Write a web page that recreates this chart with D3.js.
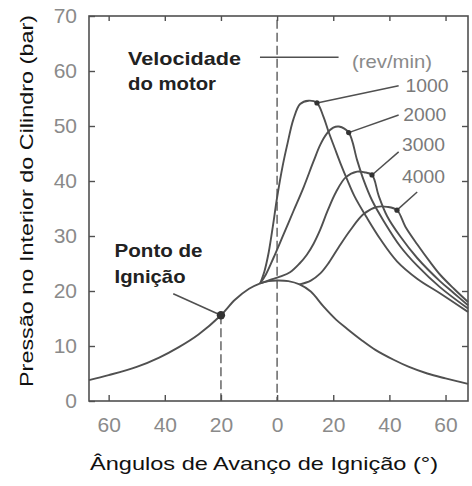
<!DOCTYPE html>
<html><head><meta charset="utf-8">
<script src="https://cdn.jsdelivr.net/npm/d3@7"></script>
<style>body{margin:0;background:#fff}svg{display:block}</style>
</head><body><svg id="c" width="472" height="486"></svg>
<script>
// ---- data ----
const xTicks = [-60, -40, -20, 0, 20, 40, 60];
const yTicks = [0, 10, 20, 30, 40, 50, 60, 70];
const rightTicks = [10, 20, 30, 40, 50, 60];
const seriesNames = ["1000", "2000", "3000", "4000"];

// motoring (no combustion) curve: [angle, pressure]
const motoring = [[-67,3.8],[-60,4.7],[-50,6.2],[-42,7.9],[-35,9.8],[-28,12.1],[-20,15.6],[-15,18.4],[-10,20.4],[-6,21.4],[-3,21.8],[0,21.9],[4,21.8],[8,21.2],[12,19.9],[16.5,17.2],[21,14.8],[25,13.1],[30,11.1],[35,9.3],[41.5,7.5],[47,6.2],[53.5,5.0],[60,4.1],[68,3.1]];

const rpm1000 = [[-6,21.4],[-4.5,23.6],[-3,27],[-1.5,31.8],[0,37],[2,42.8],[3.7,46.8],[5.8,51.2],[8.2,54],[11.2,54.6],[14.2,54.2],[16.5,51.7],[18.3,49],[20.5,46],[22.5,43.3],[25,40.2],[27.5,37.3],[32,33.3],[36.8,29.4],[42.7,25.4],[50,22.2],[58,19.6],[68,16.2]];
const rpm2000 = [[-6,21.4],[-4,23],[-1.3,26],[2.3,30.3],[5.8,34.5],[9.4,38.8],[13,43.6],[15.4,46.6],[17.7,48.6],[20,49.7],[22,49.9],[25.5,48.8],[28.5,43.8],[30.8,40.2],[33.8,36.5],[38,32.7],[43.9,28.1],[49.9,24.6],[58,20.7],[68,16.8]];
const rpm3000 = [[-6,21.4],[-2.5,22],[1,22.6],[4.6,23.4],[8,25],[10.6,26.6],[13,28.6],[15.4,31.2],[18,34.6],[21,38],[24.5,40.7],[28.5,41.7],[31,41.6],[33.8,41.1],[36.2,37.3],[39.2,33.6],[43.9,29.9],[49.9,26.0],[58,21.8],[63,19.6],[68,17.4]];
const rpm4000 = [[8,21.2],[12,21.9],[15.4,23.2],[18.5,25.2],[22,28],[26,31],[30.8,34],[35.6,35.3],[39.2,35.3],[42.7,34.7],[45.7,31.7],[49.9,28.5],[54.6,25.2],[58,23.0],[63,20.4],[68,18.0]];
const firing = [rpm1000, rpm2000, rpm3000, rpm4000];

const peakMarkers = [[14.2,54.2],[25.5,48.8],[33.8,41.1],[42.7,34.7]];
const leaderEnds  = [[43.3,57.3],[43.3,52.0],[43.3,45.3],[49.9,38.0]];
const labelPos    = [[45.7,57.3],[44.9,52.1],[44.5,46.6],[44.5,40.8]];
const ignition = [-20, 15.6];
const ignitionLeader = [-37, 19.5];
const speedLine = [[-6.1,62.5],[21.9,62.5]];

// ---- layout ----
const W = 472, H = 486, m = {l:89, t:16, r:4, b:85};
const FONT = "'Liberation Sans', Arial, Helvetica, sans-serif";
const INK = "#505050";
const svg = d3.select("#c");
const x = d3.scaleLinear().domain([-67, 68]).range([m.l, W - m.r]);
const y = d3.scaleLinear().domain([0, 70]).range([H - m.b, m.t]);

// dashed reference lines
svg.append("line").attr("x1", x(0)).attr("x2", x(0)).attr("y1", y(69.3)).attr("y2", y(0))
  .attr("stroke", "#666").attr("stroke-width", 1.5).attr("stroke-dasharray", "9,4");
svg.append("line").attr("x1", x(ignition[0])).attr("x2", x(ignition[0])).attr("y1", y(ignition[1])).attr("y2", y(0))
  .attr("stroke", "#666").attr("stroke-width", 1.5).attr("stroke-dasharray", "9,4");

// axes
function styleAxis(g, fs) {
  g.select(".domain").remove();
  g.selectAll(".tick line").attr("stroke", INK).attr("stroke-width", 1.4);
  g.selectAll(".tick text").attr("fill", "#8a8a8a").attr("font-size", fs).attr("font-family", FONT);
}
svg.append("g").attr("transform", `translate(0,${y(0)})`)
  .call(d3.axisBottom(x).tickValues(xTicks).tickSizeInner(-6).tickSizeOuter(0).tickPadding(16).tickFormat(d => Math.abs(d)))
  .call(g => styleAxis(g, 21));
svg.append("g").attr("transform", `translate(${x(-67)},0)`)
  .call(d3.axisLeft(y).tickValues(yTicks).tickSizeInner(-6).tickSizeOuter(0).tickPadding(12))
  .call(g => styleAxis(g, 21));
svg.append("g").attr("transform", `translate(0,${y(70)})`)
  .call(d3.axisTop(x).tickValues(xTicks).tickSizeInner(-5).tickSizeOuter(0).tickFormat(""))
  .call(g => styleAxis(g, 10));
svg.append("g").attr("transform", `translate(${x(68)},0)`)
  .call(d3.axisRight(y).tickValues(rightTicks).tickSizeInner(-6).tickSizeOuter(0).tickFormat(""))
  .call(g => styleAxis(g, 10));
svg.append("rect").attr("x", x(-67)).attr("y", y(70)).attr("width", x(68) - x(-67)).attr("height", y(0) - y(70))
  .attr("fill", "none").attr("stroke", INK).attr("stroke-width", 1.6);

// curves
const line = d3.line().x(d => x(d[0])).y(d => y(d[1])).curve(d3.curveCatmullRom.alpha(0.5));
svg.append("path").attr("d", line(motoring)).attr("fill", "none").attr("stroke", INK).attr("stroke-width", 1.9);
firing.forEach(s => svg.append("path").attr("d", line(s)).attr("fill", "none").attr("stroke", INK).attr("stroke-width", 1.9));

// leaders + markers
peakMarkers.forEach((p, i) => {
  svg.append("line").attr("x1", x(p[0])).attr("y1", y(p[1])).attr("x2", x(leaderEnds[i][0])).attr("y2", y(leaderEnds[i][1]))
    .attr("stroke", INK).attr("stroke-width", 1.5);
  svg.append("circle").attr("cx", x(p[0])).attr("cy", y(p[1])).attr("r", 2.6).attr("fill", "#333");
  svg.append("text").attr("x", x(labelPos[i][0])).attr("y", y(labelPos[i][1])).attr("dy", "0.35em")
    .attr("font-family", FONT).attr("font-size", 18.5).attr("fill", "#7a7a7a")
    .attr("textLength", 43).attr("lengthAdjust", "spacingAndGlyphs").text(seriesNames[i]);
});
svg.append("line").attr("x1", x(speedLine[0][0])).attr("y1", y(speedLine[0][1])).attr("x2", x(speedLine[1][0])).attr("y2", y(speedLine[1][1]))
  .attr("stroke", INK).attr("stroke-width", 1.6);
svg.append("text").attr("x", x(26.7)).attr("y", y(61.7)).attr("dy", "0.35em")
  .attr("font-family", FONT).attr("font-size", 18.5).attr("fill", "#8a8a8a")
  .attr("textLength", 80).attr("lengthAdjust", "spacingAndGlyphs").text("(rev/min)");

// ignition point
svg.append("line").attr("x1", x(ignitionLeader[0])).attr("y1", y(ignitionLeader[1])).attr("x2", x(ignition[0])).attr("y2", y(ignition[1]))
  .attr("stroke", INK).attr("stroke-width", 1.6);
svg.append("circle").attr("cx", x(ignition[0])).attr("cy", y(ignition[1])).attr("r", 4.2).attr("fill", "#333");

// bold annotations
function bold(t, dx, dp, len) {
  svg.append("text").attr("x", x(dx)).attr("y", y(dp)).attr("font-family", FONT).attr("font-weight", "bold")
    .attr("font-size", 19).attr("fill", "#222").attr("textLength", len).attr("lengthAdjust", "spacingAndGlyphs").text(t);
}
bold("Velocidade", -53.1, 61.1, 113);
bold("do motor", -53.1, 56.5, 88);
bold("Ponto de", -57.9, 26.1, 88);
bold("Ignição", -57.9, 21.5, 71);

// axis titles
svg.append("text").attr("x", 264).attr("y", 470).attr("text-anchor", "middle")
  .attr("font-family", FONT).attr("font-size", 19).attr("fill", "#111")
  .attr("textLength", 348).attr("lengthAdjust", "spacingAndGlyphs").text("Ângulos de Avanço de Ignição (°)");
svg.append("text").attr("transform", "translate(33,201) rotate(-90)").attr("text-anchor", "middle")
  .attr("font-family", FONT).attr("font-size", 19).attr("fill", "#111")
  .attr("textLength", 372).attr("lengthAdjust", "spacingAndGlyphs").text("Pressão no Interior do Cilindro (bar)");
</script></body></html>
